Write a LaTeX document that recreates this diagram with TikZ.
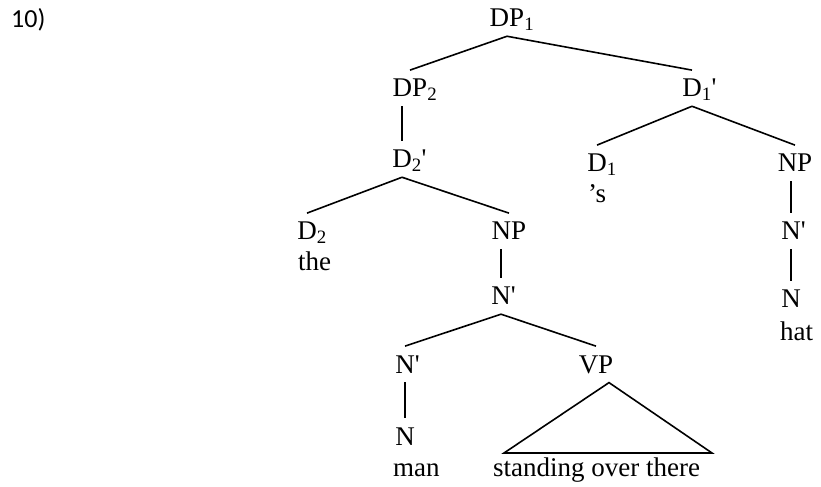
\documentclass[tikz,border=0pt]{standalone}
\usepackage{fontspec}
\setmainfont{Liberation Serif}
\newfontfamily\numfont{Carlito}
\usepackage{tikz}
\usetikzlibrary{positioning}

\newcommand{\catsub}[1]{\rlap{\smash{\textsubscript{#1}}}}
\newcommand{\catsubbar}[1]{\rlap{\smash{\textsubscript{#1}\textquotesingle}}}
\newcommand{\catbar}{\rlap{\smash{\textquotesingle}}}

\begin{document}
\begin{tikzpicture}[
  x=1bp, y=-1bp,
  cat/.style={inner xsep=0pt, inner ysep=9bp, anchor=base, font=\fontsize{27bp}{32bp}\selectfont},
  word/.style={inner sep=0pt, anchor=base west, font=\fontsize{27bp}{32bp}\selectfont},
  branch/.style={line width=1.6bp}
]
\useasboundingbox (0,0) rectangle (821,487);
\node[word, font=\numfont\fontsize{26bp}{30bp}\selectfont] (ex) at (11,28) {10)};
% categories
\node[cat] (dpone) at (507,27) {DP\catsub{1}};
\node[cat] (dptwo) at (410,97) {DP\catsub{2}};
\node[cat] (donebar) at (692,97) {D\catsubbar{1}};
\node[cat] (dtwobar) at (402,168) {D\catsubbar{2}};
\node[cat] (done) at (597,172) {D\catsub{1}};
\node[cat] (npr) at (795,172) {NP};
\node[cat] (dtwo) at (307,240) {D\catsub{2}};
\node[cat] (npl) at (509,240) {NP};
\node[cat] (nbarr) at (791,240) {N\catbar};
\node[cat] (nbarm) at (501,305) {N\catbar};
\node[cat] (nr) at (791,308) {N};
\node[cat] (nbarl) at (405,373) {N\catbar};
\node[cat] (vp) at (596,373) {VP};
\node[cat] (nl) at (405,445) {N};
% words
\node[word] (the) at (298,271) {the};
\node[word] (poss) at (588,203) {'s};
\node[word] (hat) at (780,340) {hat};
\node[word] (man) at (393,476) {man};
\node[word] (standing) at (493,476) {standing over there};
% branches
\draw[branch] (dpone.south) -- (dptwo.north);
\draw[branch] (dpone.south) -- (donebar.north);
\draw[branch] (dptwo.south -| dtwobar.north) -- (dtwobar.north);
\draw[branch] (donebar.south) -- (done.north);
\draw[branch] (donebar.south) -- (npr.north);
\draw[branch] (dtwobar.south) -- (dtwo.north);
\draw[branch] (dtwobar.south) -- (npl.north);
\draw[branch] (npr.south -| nbarr.north) -- (nbarr.north);
\draw[branch] (nbarr.south) -- (nr.north);
\draw[branch] (npl.south -| nbarm.north) -- (nbarm.north);
\draw[branch] (nbarm.south) -- (nbarl.north);
\draw[branch] (nbarm.south) -- (vp.north);
\draw[branch] (nbarl.south) -- (nl.north);
% roof over VP
\coordinate (roofl) at (504,453);
\coordinate (roofr) at (712,453);
\draw[branch] ([xshift=13bp]vp.south) -- (roofl) -- (roofr) -- cycle;
\end{tikzpicture}
\end{document}
